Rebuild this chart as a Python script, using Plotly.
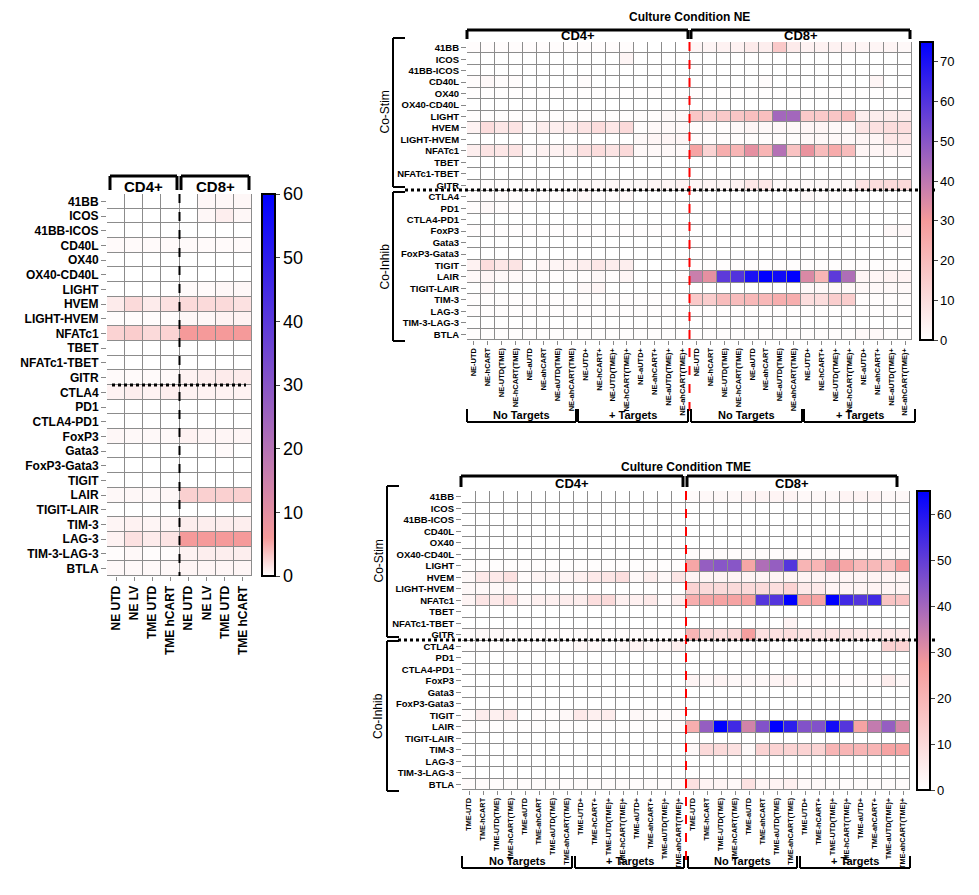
import plotly.graph_objects as go

W, H = 963, 879
rows = ["41BB","ICOS","41BB-ICOS","CD40L","OX40","OX40-CD40L","LIGHT","HVEM","LIGHT-HVEM",
        "NFATc1","TBET","NFATc1-TBET","GITR","CTLA4","PD1","CTLA4-PD1","FoxP3","Gata3",
        "FoxP3-Gata3","TIGIT","LAIR","TIGIT-LAIR","TIM-3","LAG-3","TIM-3-LAG-3","BTLA"]
left_cols = ["NE UTD","NE LV","TME UTD","TME hCART","NE UTD","NE LV","TME UTD","TME hCART"]
base = ["UTD","hCART","UTD(TME)","hCART(TME)","aUTD","ahCART","aUTD(TME)","ahCART(TME)"]
ne_cols = (["NE-"+b for b in base] + ["NE-"+b+"+" for b in base]) * 2
tme_cols = (["TME-"+b for b in base] + ["TME-"+b+"+" for b in base]) * 2

left_vals = [
 [0,0,0,0, 0,0.5,0.5,0.5],[0,0,0,0, 0,0.5,1,0.5],[0,0,0,0, 0,0,0,0],[0.3,0.3,0.3,0.3, 0.3,0.3,0.3,0.3],
 [0,0,0,0, 0,0,0,0],[0,0,0,0, 0,0,0,0],[0,0,0,0, 0.3,0.3,0.5,0.5],[1.2,2.2,1.2,1.8, 2.2,2.2,2.2,1.8],
 [0.2,0.2,0.2,0.2, 0.5,0.5,0.8,0.8],[2.6,3.0,2.2,2.6, 6.0,6.0,6.0,6.0],[0,0,0,0, 0,0,0,0],[0,0,0,0, 0,0,0,0],
 [0.3,0.3,0.3,0.3, 0.8,1,1.2,1.2],[0.8,1,0.8,1, 0.8,0.8,0.8,0.8],[0,0,0,0, 0,0,0,0],[0,0,0,0, 0,0,0,0],
 [0.5,0.4,0.4,0.4, 0.8,0.6,0.6,0.6],[0,0,0,0, 0,0,0.3,0],[0,0,0,0, 0,0,0,0],[0,0,0,0, 0,0,0,0],
 [0.4,0.5,0.4,0.5, 2.8,2.8,2.8,2.8],[0,0,0,0, 0,0,0,0],[0.6,0.8,0.6,0.6, 1,1,1,1],[0.8,1.8,1.2,1.6, 6.0,6.0,6.0,6.0],
 [0.2,0.4,0.2,0.2, 0.8,1,1,1],[0.4,0.4,0.4,0.4, 0.6,0.6,0.6,0.6]]

ne_vals = [
 [1,1,1,1,1,1,1,1, 1,1,1,1,0,0,0,0, 3,3,4,4,6,5,16,6, 4,4,4,4,3,3,3,2],
 [0]*11+[3]+[0]*20,
 [0]*32,
 [1,2,1,1,0,0,0,0, 1,0,0,0,0,0,0,0, 0,0,0,0,0,1,0,0, 0,0,0,0,0,3,0,0],
 [0.5]*32,
 [0]*32,
 [0.5]*12+[1,1,2,2]+[17,14,16,17,19,19,45,45, 16,16,17,20,5,5,6,6],
 [4,10,7,8,2,5,5,6, 8,10,7,11,1,2,2,2, 1,1,1,2,3,2,2,2, 3,3,2,2,8,9,10,10],
 [0]*12+[2,3,3,3]+[1,1,1,1,1,1,1,1, 2,2,2,2,3,3,7,7],
 [5,8,7,8,2,4,4,5, 9,10,8,11,2,2,2,2, 27,13,24,22,33,22,42,18, 32,20,25,20,3,3,4,4],
 [0]*32,
 [0]*32,
 [1]*8+[2,2,2,2,2,3,3,4]+[3,3,3,4,7,7,2,2, 2,2,2,2,8,10,11,11],
 [1,1,1,1,1,1,1,1, 2,1,1,2,0,0,0,0, 0,0,0,0,0,0,0,0, 2,1,1,1,0,0,0,0],
 [1,2,1,1,0,0,0,0, 0,0,0,0,0,0,0,0]+[0]*16,
 [0]*32,
 [0.5]*16+[0]*14+[2,2],
 [0]*32,
 [0]*32,
 [4,10,7,8,1,3,3,4, 5,7,5,5,0,0,0,0]+[0.5]*16,
 [2,3,2,2,1,1,1,1, 1,2,1,3,0,0,0,1, 38,33,58,60,70,75,72,75, 35,22,58,43,3,3,4,4],
 [0,2,0,0,0,0,0,0, 2,3,0,0,0,0,0,0]+[0]*8+[2]*8,
 [0.5]*16+[16,15,20,20,21,21,24,24, 10,10,15,15,1,1,1,1],
 [0.5]*32,
 [0]*32,
 [0.5]*16+[0.5]*8+[1,1,1,1,2,2,1,1]]

tme_vals = [
 [0]*16+[1,2,2,2,3,3,3,3, 2,2,2,3,3,3,2,2],
 [0]*32,[0]*32,[0]*32,[0]*32,
 [0]*16+[1]*16,
 [0.5]*16+[24,42,44,44,24,38,42,52, 20,20,29,24,19,19,17,27],
 [2,6,6,8,1,3,3,3, 4,6,7,9,2,5,2,7]+[3]*16,
 [2,2,2,2,0,0,0,0, 0,0,0,0,0,0,0,0, 12,10,10,10,10,10,9,12, 6,6,3,3,3,3,3,3],
 [3,7,6,8,2,4,4,5, 5,9,10,4,4,6,1,5, 22,24,25,25,26,52,52,65, 25,25,65,55,52,55,16,16],
 [0]*32,
 [0]*23+[3]+[0]*8,
 [1,2,2,1,1,1,1,1, 1,1,1,1,1,1,1,1, 20,10,9,10,26,8,8,9, 7,7,7,7,6,6,6,6],
 [0.5]*8+[2,2,1,2,3,2,2,4]+[0.5]*14+[12,12],
 [0]*32,[0]*32,
 [0]*16+[3,2,3,2,2,2,3,3, 1,1,1,1,1,1,5,2],
 [0]*32,[0]*32,
 [1,5,4,6,0,1,1,2, 6,4,5,0,2,1,1,1]+[0]*16,
 [0.5]*16+[22,42,65,55,33,45,65,58, 45,45,62,52,25,35,42,32],
 [0]*32,
 [0]*16+[2,10,10,8,2,12,12,12, 12,12,20,20,20,20,25,25],
 [0]*32,[0]*32,
 [1]*16+[8,3,3,2,8,3,3,4, 2,2,1,1,1,1,1,1]]

OFF = 8
def px(x): return (x - OFF) / W
def py(y): return 1 - (y - OFF) / H

fig = go.Figure()
white, pink, blue = "#ffffff", "#f59a9a", "#0000ff"
panels = [
 ("", left_vals, left_cols, 107, 252, 194, 576, 262, 60, 12, 12, 10, 0.1, 18),
 ("2", ne_vals, ne_cols, 467, 912, 42, 340, 920, 75, 7.5, 9.5, 10, 0.4, 13),
 ("3", tme_vals, tme_cols, 462, 910, 491, 790, 917, 65, 7.3, 9.5, 10, 0.42, 13),
]
for k, vals, cols, x0, x1, y0, y1, cbx, zmax, cfs, rfs, dt, pp, cbfs in panels:
    n = len(cols)
    fig.add_trace(go.Heatmap(
        z=vals, x=list(range(n)), y=list(range(len(rows))), xaxis="x"+k, yaxis="y"+k,
        zmin=0, zmax=zmax, xgap=1, ygap=1,
        colorscale=[[0, white], [pp, pink], [1, blue]],
        colorbar=dict(x=px(cbx), xanchor="left", y=py(y0), yanchor="top", len=(y1-y0)/H,
                      lenmode="fraction", thickness=13, outlinewidth=2, outlinecolor="black",
                      tick0=0, dtick=dt, ticks="outside", ticklen=4, xpad=0, ypad=0,
                      tickfont=dict(family="Arial", size=cbfs, color="black"))))
    fig.update_layout(**{
        "xaxis"+k: dict(domain=[px(x0), px(x1)], anchor="y"+k, tickvals=list(range(n)),
                        ticktext=[f"<b>{c}</b>" for c in cols],
                        tickangle=-90, range=[-0.5, n-0.5], showgrid=False, zeroline=False,
                        ticks="outside", ticklen=4, tickcolor="#888",
                        tickfont=dict(family="Arial", size=cfs, color="black")),
        "yaxis"+k: dict(domain=[py(y1), py(y0)], anchor="x"+k, tickvals=list(range(len(rows))),
                        ticktext=[f"<b>{r}</b>" for r in rows], range=[len(rows)-0.5, -0.5], showgrid=False,
                        zeroline=False, ticks="outside", ticklen=5, tickcolor="#888",
                        tickfont=dict(family="Arial", size=rfs, color="black"))})

shapes, ann = [], []
def line(xa, ya, xb, yb, color="black", width=2, dash=None):
    shapes.append(dict(type="line", xref="paper", yref="paper", x0=px(xa), y0=py(ya), x1=px(xb), y1=py(yb),
                       line=dict(color=color, width=width, dash=dash)))
def text(x, y, s, size=13, angle=0, bold=True):
    ann.append(dict(x=px(x), y=py(y), xref="paper", yref="paper", text=f"<b>{s}</b>" if bold else s,
                    xanchor="center", yanchor="middle",
                    showarrow=False, textangle=angle, font=dict(family="Arial", size=size, color="black")))
def topbr(xa, xb, yt, yb, label, size, dy):
    line(xa, yb, xa, yt, width=3); line(xa, yt, xb, yt, width=3); line(xb, yt, xb, yb, width=3)
    text((xa+xb)/2, yt+dy, label, size)
def botbr(xa, xb, yt, yb, label):
    line(xa, yt, xa, yb); line(xa, yb, xb, yb); line(xb, yb, xb, yt)
    text((xa+xb)/2, yb-7, label, 11)
def sidebr(x, ya, yb, label):
    line(x+12, ya, x, ya); line(x, ya, x, yb); line(x, yb, x+12, yb)
    text(x-9, (ya+yb)/2, label, 12, -90, bold=False)

# left panel
topbr(110, 177, 176, 190, "CD4+", 15, 10); topbr(181, 249, 176, 190, "CD8+", 15, 10)
line(179.5, 194, 179.5, 576, width=2, dash="dash")
line(112, 385, 246, 385, width=3, dash="dot")
# NE panel
text(689, 17, "Culture Condition NE", 12)
topbr(467, 688, 30, 39, "CD4+", 13, 6); topbr(691, 910, 30, 39, "CD8+", 13, 6)
line(689.5, 42, 689.5, 412, color="red", width=2, dash="dash")
line(405, 190, 935, 190, width=3, dash="dot")
sidebr(393, 38, 187, "Co-Stim"); sidebr(393, 192, 341, "Co-Inhib")
for a, b, l in [(467, 576, "No Targets"), (578, 688, "+ Targets"), (691, 802, "No Targets"), (804, 915, "+ Targets")]:
    botbr(a, b, 409, 422, l)
# TME panel
text(686, 467, "Culture Condition TME", 12)
topbr(461, 683, 476, 487, "CD4+", 13, 7); topbr(687, 897, 476, 487, "CD8+", 13, 7)
line(686, 491, 686, 862, color="red", width=2, dash="dash")
line(398, 640, 935, 640, width=3, dash="dot")
sidebr(387, 486, 637, "Co-Stim"); sidebr(387, 641, 791, "Co-Inhib")
for a, b, l in [(462, 572, "No Targets"), (575, 684, "+ Targets"), (688, 797, "No Targets"), (800, 910, "+ Targets")]:
    botbr(a, b, 856, 868, l)

fig.update_layout(width=W, height=H, margin=dict(l=0, r=0, t=0, b=0), paper_bgcolor="white",
                  plot_bgcolor="#8c8c8c", shapes=shapes, annotations=ann, showlegend=False)
fig.write_html("out.html")
